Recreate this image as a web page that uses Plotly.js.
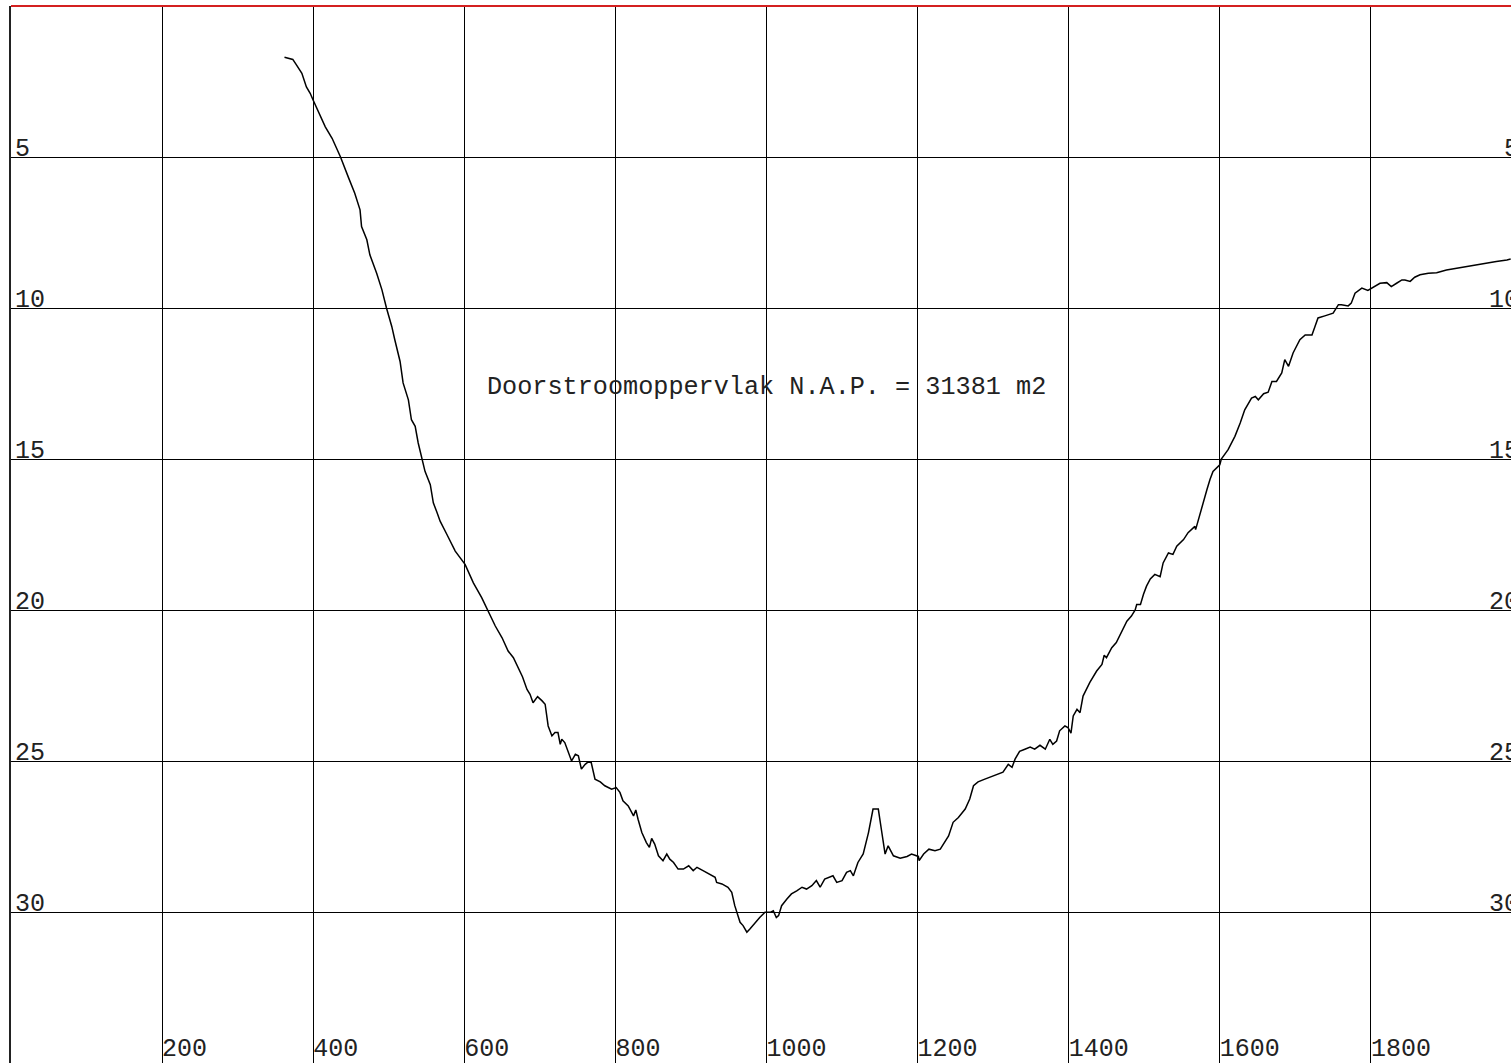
<!DOCTYPE html>
<html>
<head>
<meta charset="utf-8">
<script src="https://cdn.plot.ly/plotly-3.0.1.min.js"></script>
<style>
html, body { margin: 0; padding: 0; overflow: hidden; background: #fff; }
#chart { width: 1522px; height: 1063px; }
</style>
</head>
<body>
<div id="chart"></div>
<script>
// Profile: distance along section (m) and depth below N.A.P. (m)
const distance = [362,373,378,385,391,396,400,409,416,425,431,436,447,455,462,464,471,475,484,491,497,504,508,515,519,526,530,535,539,544,548,555,559,564,568,577,588,601,612,623,631,641,650,658,665,672,677,683,687,691,697,703,707,711,716,720,724,727,729,733,738,742,747,751,755,760,764,768,773,780,786,791,795,801,806,810,817,824,827,830,835,841,845,848,852,857,863,868,872,877,883,890,897,903,908,916,925,932,934,941,949,954,958,961,965,969,974,978,985,991,998,1005,1009,1013,1016,1020,1027,1033,1040,1047,1053,1060,1066,1071,1077,1084,1088,1093,1100,1106,1111,1115,1121,1128,1135,1141,1148,1152,1157,1161,1168,1177,1186,1192,1201,1202,1208,1215,1223,1230,1234,1241,1247,1254,1263,1269,1274,1280,1289,1302,1313,1320,1325,1329,1335,1342,1349,1355,1362,1369,1375,1379,1384,1388,1395,1399,1403,1406,1411,1415,1419,1428,1437,1444,1447,1450,1457,1463,1470,1477,1483,1488,1490,1495,1499,1503,1508,1514,1521,1525,1532,1538,1543,1552,1558,1567,1568,1574,1578,1583,1587,1591,1600,1602,1611,1620,1627,1633,1642,1647,1651,1658,1664,1669,1675,1682,1686,1691,1697,1706,1713,1722,1726,1730,1739,1750,1757,1761,1770,1774,1779,1788,1796,1803,1812,1821,1827,1834,1841,1845,1852,1858,1865,1876,1887,1900,1913,1927,1940,1953,1966,1980,1985];
const depth = [1.70,1.77,1.96,2.23,2.68,2.89,3.12,3.61,4.00,4.38,4.71,4.99,5.70,6.20,6.75,7.30,7.74,8.24,8.85,9.40,10.00,10.61,11.05,11.77,12.48,13.04,13.70,13.92,14.47,14.96,15.41,15.85,16.45,16.78,17.06,17.50,18.05,18.49,19.10,19.59,20.00,20.53,20.92,21.36,21.58,21.96,22.21,22.63,22.79,23.07,22.87,23.01,23.12,23.84,24.17,24.06,24.06,24.45,24.28,24.39,24.72,25.00,24.78,24.83,25.27,25.11,25.03,25.05,25.60,25.69,25.82,25.88,25.93,25.88,26.04,26.32,26.49,26.82,26.62,26.93,27.37,27.70,27.86,27.56,27.75,28.14,28.30,28.08,28.25,28.36,28.58,28.58,28.47,28.63,28.52,28.63,28.74,28.85,29.02,29.07,29.18,29.35,29.79,30.01,30.34,30.45,30.67,30.56,30.34,30.18,30.01,30.01,29.96,30.18,30.12,29.79,29.57,29.40,29.30,29.18,29.24,29.13,28.96,29.18,28.91,28.85,28.80,29.02,28.96,28.69,28.63,28.80,28.36,28.08,27.37,26.59,26.59,27.26,28.08,27.81,28.14,28.22,28.16,28.08,28.16,28.30,28.08,27.92,27.97,27.92,27.75,27.48,27.03,26.87,26.59,26.26,25.82,25.69,25.60,25.47,25.37,25.11,25.21,24.94,24.68,24.61,24.54,24.61,24.48,24.61,24.28,24.45,24.34,24.00,23.84,23.89,24.08,23.51,23.29,23.40,22.85,22.40,22.02,21.80,21.50,21.58,21.25,21.08,20.70,20.37,20.20,20.00,19.82,19.82,19.48,19.21,18.97,18.82,18.90,18.44,18.11,18.16,17.89,17.67,17.44,17.23,17.34,16.78,16.45,16.01,15.68,15.41,15.19,15.00,14.69,14.25,13.81,13.37,12.98,12.93,13.04,12.84,12.79,12.43,12.43,12.15,11.71,11.93,11.49,11.05,10.89,10.89,10.61,10.33,10.26,10.17,9.89,9.89,9.93,9.84,9.51,9.34,9.42,9.31,9.18,9.16,9.29,9.18,9.07,9.07,9.12,8.98,8.90,8.85,8.83,8.74,8.68,8.63,8.57,8.52,8.46,8.41,8.38];

const xTicks = [200,400,600,800,1000,1200,1400,1600,1800];
const xTickText = ['200','400','600','800','1000','1200','1400','1600','1800'];
const yTicks = [5,10,15,20,25,30];
const yTickText = ['5','10','15','20','25','30'];
const annotationText = 'Doorstroomoppervlak N.A.P. = 31381 m2';
const annotationX = 627.5;
const annotationY = 12.63;

const FONT = 'Liberation Mono, DejaVu Sans Mono, monospace';

const trace = {
  x: distance,
  y: depth,
  type: 'scatter',
  mode: 'lines',
  line: { color: '#000', width: 1.5 },
  hoverinfo: 'skip',
  showlegend: false
};
const traceRight = {
  x: distance,
  y: depth,
  yaxis: 'y2',
  type: 'scatter',
  mode: 'lines',
  line: { color: 'rgba(0,0,0,0)', width: 0 },
  hoverinfo: 'skip',
  showlegend: false
};

const layout = {
  width: 1522,
  height: 1063,
  margin: { l: 11, r: 0, t: 6, b: 0, pad: 0 },
  paper_bgcolor: '#fff',
  plot_bgcolor: '#fff',
  showlegend: false,
  font: { family: FONT, size: 25, color: '#222' },
  xaxis: {
    range: [0, 2000],
    tickmode: 'array',
    tickvals: xTicks,
    ticktext: xTickText,
    ticklabelposition: 'inside right',
    ticklabelstandoff: -4,
    ticks: '',
    showgrid: true,
    gridcolor: '#000',
    gridwidth: 1,
    zeroline: false,
    showline: false,
    tickfont: { family: FONT, size: 25, color: '#222' }
  },
  yaxis: {
    range: [35, 0],
    tickmode: 'array',
    tickvals: yTicks,
    ticktext: yTickText,
    ticklabelposition: 'inside top',
    ticklabelstandoff: 5,
    ticklabelshift: -8,
    ticks: '',
    showgrid: true,
    gridcolor: '#000',
    gridwidth: 1,
    zeroline: false,
    showline: true,
    linecolor: '#222',
    linewidth: 2,
    tickfont: { family: FONT, size: 25, color: '#222' }
  },
  yaxis2: {
    overlaying: 'y',
    side: 'right',
    range: [35, 0],
    tickmode: 'array',
    tickvals: yTicks,
    ticktext: yTickText,
    ticklabelposition: 'inside top',
    ticklabelshift: -8,
    ticks: '',
    showgrid: false,
    zeroline: false,
    showline: false,
    tickfont: { family: FONT, size: 25, color: '#222' }
  },
  shapes: [{
    type: 'line', xref: 'paper', yref: 'paper',
    x0: 0, x1: 1, y0: 1, y1: 1,
    line: { color: '#d42020', width: 2 }
  }],
  annotations: [{
    x: annotationX, y: annotationY, xref: 'x', yref: 'y',
    text: annotationText,
    showarrow: false,
    xanchor: 'left', yanchor: 'middle',
    font: { family: FONT, size: 25.2, color: '#222' }
  }]
};

Plotly.newPlot('chart', [trace, traceRight], layout, { staticPlot: true, displayModeBar: false });
</script>
</body>
</html>
